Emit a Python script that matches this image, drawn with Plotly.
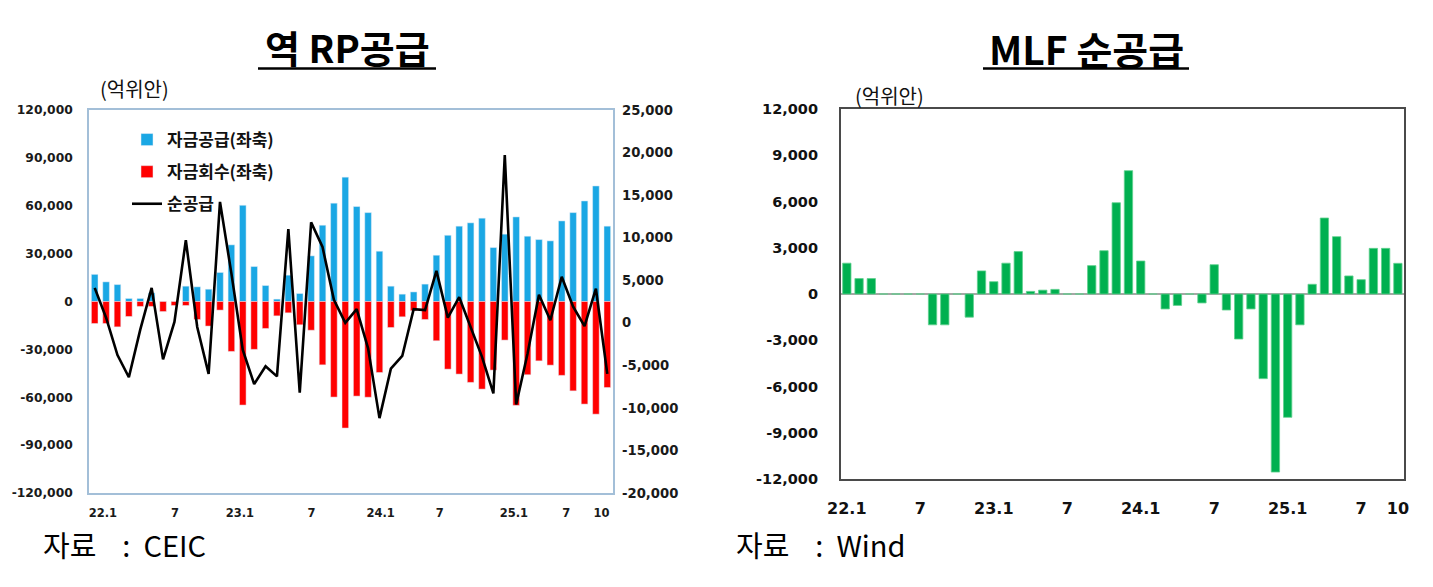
import plotly.graph_objects as go

# ---------------- data ----------------
n_months = 46  # 2022.1 ~ 2025.10
x_idx = list(range(n_months))

# 역 RP: 자금공급 (좌축, 억위안)
rp_supply = [17000, 12300, 10600, 1900, 1900, 5400, 0, 0, 9600, 9200,
             7700, 18200, 35500, 60300, 21900, 10000, 1500, 16500, 5000, 28600,
             47800, 61600, 77900, 59500, 55700, 31500, 9600, 4600, 6000, 10900,
             29000, 41500, 47200, 49300, 52200, 33800, 42200, 53000, 40900, 38800,
             38000, 50500, 55700, 63000, 72400, 47200]
# 역 RP: 자금회수 (좌축, 억위안)
rp_withdraw = [-13800, -13800, -15900, -9400, -3100, -3100, -6300, -2500, -2500, -11300,
               -15400, -5400, -31300, -64900, -30000, -16900, -9000, -7100, -14600, -18000,
               -39700, -59900, -79300, -59300, -60000, -44500, -16300, -9600, -5800, -11300,
               -24600, -42400, -45500, -50700, -54900, -43000, -24200, -65100, -45900, -37200,
               -39900, -46300, -56000, -64300, -70600, -53900]
# 역 RP: 순공급 (우축, 억위안)
rp_net = [4100, 600, -3800, -6400, -800, 4100, -4300, 100, 9700, -500,
          -6000, 14200, 5800, -3200, -7200, -5100, -6300, 11000, -8200, 11800,
          8900, 2700, 0, 1600, -3000, -11200, -5400, -3900, 1600, 1500,
          6100, 600, 3000, -500, -4000, -8300, 19700, -9600, -3600, 3300,
          300, 5400, 1900, -400, 4000, -6000]
# MLF 순공급 (억위안)
mlf_net = [2000, 1000, 1000, 0, 0, 0, 0, -2000, -2000, 0,
           -1500, 1500, 800, 2000, 2750, 170, 250, 300, 0, 0,
           1840, 2810, 5920, 8000, 2140, 0, -970, -740, 0, -580,
           1900, -1040, -2920, -970, -5490, -11550, -8000, -2000, 630, 4930,
           3720, 1170, 930, 2960, 2960, 1990]

# x tick labels
x_ticktext = ["22.1", "7", "23.1", "7", "24.1", "7", "25.1", "7", "10"]
left_tickpos = [0.72, 7.04, 12.75, 19.04, 25.1, 30.3, 36.8, 41.4, 44.5]
right_tickpos = [0, 6, 12, 18, 24, 30, 36, 42, 45]

# y tick values / labels
y1_vals = [120000, 90000, 60000, 30000, 0, -30000, -60000, -90000, -120000]
y1_text = ["120,000", "90,000", "60,000", "30,000", "0", "-30,000", "-60,000", "-90,000", "-120,000"]
y2_vals = [25000, 20000, 15000, 10000, 5000, 0, -5000, -10000, -15000, -20000]
y2_text = ["25,000", "20,000", "15,000", "10,000", "5,000", "0", "-5,000", "-10,000", "-15,000", "-20,000"]
y3_vals = [12000, 9000, 6000, 3000, 0, -3000, -6000, -9000, -12000]
y3_text = ["12,000", "9,000", "6,000", "3,000", "0", "-3,000", "-6,000", "-9,000", "-12,000"]

# ---------------- figure ----------------
OFF = 8                      # page body margin
W, H = 1433 - 2 * OFF, 587 - 2 * OFF
KR = "Noto Sans CJK KR"
NUM = "DejaVu Sans"
NB = "\u00a0"

def px(x):
    return (x - OFF) / W

def py(y):
    return 1 - (y - OFF) / H

fig = go.Figure()

fig.add_trace(go.Bar(x=x_idx, y=rp_supply, name="자금공급(좌축)", marker_color="#1aa7e4",
                     width=0.58, xaxis="x", yaxis="y", legendgroup="a"))
fig.add_trace(go.Bar(x=x_idx, y=rp_withdraw, name="자금회수(좌축)", marker_color="#ff0000",
                     width=0.58, xaxis="x", yaxis="y", legendgroup="b"))
fig.add_trace(go.Scatter(x=x_idx, y=rp_net, name="순공급", mode="lines",
                         line=dict(color="#000000", width=2.6), xaxis="x", yaxis="y2",
                         legendgroup="c"))
fig.add_trace(go.Bar(x=x_idx, y=mlf_net, name="MLF 순공급", marker_color="#00b050",
                     marker_line=dict(color="#5fd08e", width=0.8),
                     width=0.68, xaxis="x2", yaxis="y3", showlegend=False))

left_border = "#a3bfd8"
right_border = "#4a4a4a"

fig.update_layout(
    width=W, height=H,
    margin=dict(l=0, r=0, t=0, b=0, autoexpand=False),
    paper_bgcolor="white", plot_bgcolor="white",
    barmode="overlay",
    showlegend=True,
    legend=dict(x=px(127), y=py(122), xanchor="left", yanchor="top",
                font=dict(family=KR, size=17, color="#111111", weight="bold"),
                tracegroupgap=7, bgcolor="rgba(0,0,0,0)", itemwidth=30),
    xaxis=dict(domain=[px(89), px(613)], range=[-0.5, 45.5], anchor="y", automargin=False,
               tickvals=left_tickpos, ticktext=x_ticktext, ticks="",
               tickfont=dict(family=NUM, size=11.5, color="#1a1a1a", weight="bold"),
               showgrid=False, zeroline=False, showline=True, mirror=True,
               linecolor=left_border, linewidth=1.5, ticklabelstandoff=8),
    yaxis=dict(domain=[py(493), py(110)], range=[-120000, 120000], anchor="x", automargin=False,
               tickvals=y1_vals, ticktext=y1_text, ticks="",
               tickfont=dict(family=NUM, size=12.3, color="#1a1a1a", weight="bold"),
               showgrid=False, zeroline=False, showline=True, mirror=True,
               linecolor=left_border, linewidth=1.5, ticklabelstandoff=12),
    yaxis2=dict(overlaying="y", side="right", anchor="x", range=[-20000, 25000], automargin=False,
                tickvals=y2_vals, ticktext=y2_text, ticks="",
                tickfont=dict(family=NUM, size=13.2, color="#1a1a1a", weight="bold"),
                showgrid=False, zeroline=False, showline=False, ticklabelstandoff=8),
    xaxis2=dict(domain=[px(840.7), px(1404)], range=[-0.5, 45.5], anchor="y3", automargin=False,
                tickvals=right_tickpos, ticktext=x_ticktext, ticks="",
                tickfont=dict(family=NUM, size=16, color="#111111", weight="bold"),
                showgrid=False, zeroline=False, showline=True, mirror=True,
                linecolor=right_border, linewidth=1.5, ticklabelstandoff=14),
    yaxis3=dict(domain=[py(479), py(109)], range=[-12000, 12000], anchor="x2", automargin=False,
                tickvals=y3_vals, ticktext=y3_text, ticks="",
                tickfont=dict(family=NUM, size=14.5, color="#111111", weight="bold"),
                showgrid=False, zeroline=True, zerolinecolor="#a6a6a6", zerolinewidth=1.5,
                showline=True, mirror=True, linecolor=right_border, linewidth=1.5,
                ticklabelstandoff=18),
)

def ann(text, x, y, size, xanchor="center", color="#000000"):
    return dict(text=text, x=px(x), y=py(y), xref="paper", yref="paper",
                xanchor=xanchor, yanchor="middle", showarrow=False,
                font=dict(family=KR, size=size, color=color))

annotations = [
    ann("<b>역 RP공급</b>", 347, 47, 38),
    ann("<b>MLF" + NB + "순공급</b>", 1086, 48, 39),
    ann("(억위안)", 134, 88, 20, color="#111111"),
    ann("(억위안)", 889, 96, 20, color="#111111"),
    ann("자료" + NB * 4 + ":" + NB * 2 + "CEIC", 41, 544, 29, xanchor="left"),
    ann("자료" + NB * 4 + ":" + NB * 2 + "Wind", 734, 544, 29, xanchor="left"),
]
fig.update_layout(annotations=annotations)

fig.update_layout(shapes=[
    dict(type="line", xref="paper", yref="paper", x0=px(258), x1=px(436),
         y0=py(68.5), y1=py(68.5), line=dict(color="#000000", width=2.5)),
    dict(type="line", xref="paper", yref="paper", x0=px(983), x1=px(1189),
         y0=py(68.5), y1=py(68.5), line=dict(color="#000000", width=2.5)),
])

fig.write_html("out.html")
